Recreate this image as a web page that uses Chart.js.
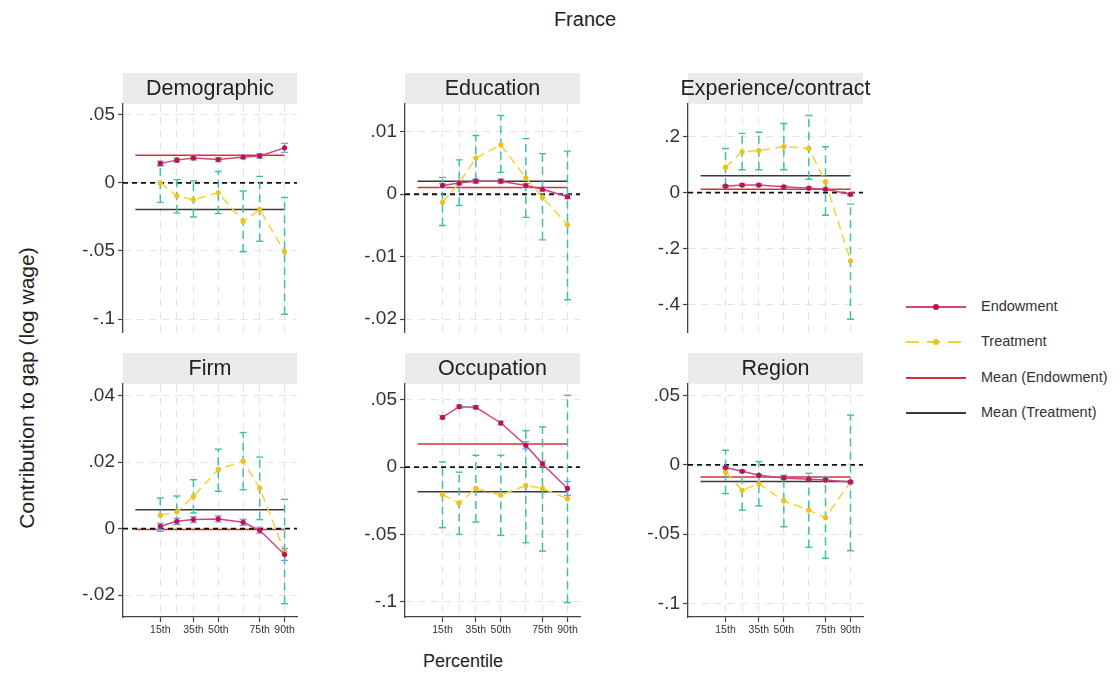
<!DOCTYPE html>
<html>
<head>
<meta charset="utf-8">
<title>France</title>
<script src="https://cdn.jsdelivr.net/npm/chart.js@4.4.1/dist/chart.umd.min.js"></script>
<style>
  body { margin: 0; width: 1120px; height: 675px; background: #fff; position: relative; overflow: hidden;
         font-family: "Liberation Sans", Arial, sans-serif; color: #222; }
  canvas.panel { position: absolute; }
  .txt { position: absolute; white-space: nowrap; }
  #mainTitle { left: 585px; top: 19px; font-size: 20px; transform: translate(-50%, -50%); }
  #xTitle { left: 463px; top: 661px; font-size: 18px; transform: translate(-50%, -50%); }
  #yTitle { left: 27px; top: 388px; font-size: 21px; transform: translate(-50%, -50%) rotate(-90deg); }
  .leg { position: absolute; left: 906px; height: 20px; width: 210px; }
  .leg .sample { position: absolute; left: 0; top: 9px; width: 60px; height: 1.5px; }
  .leg .dot { position: absolute; left: 27px; top: 7px; width: 6px; height: 6px; border-radius: 50%; }
  .leg .lab { position: absolute; left: 75px; top: 1px; font-size: 14.5px; color: #333; }
</style>
</head>
<body>
<div id="mainTitle" class="txt">France</div>
<div id="yTitle" class="txt">Contribution to gap (log wage)</div>
<div id="xTitle" class="txt">Percentile</div>
<div id="legend"></div>

<script>
// x positions and tick labels
const percentiles = [15, 25, 35, 50, 65, 75, 90];
const labelledPercentiles = [15, 35, 50, 75, 90];
const meanFrom = 0;
const meanTo = 90;

const panelTitles = ['Demographic', 'Education', 'Experience/contract', 'Firm', 'Occupation', 'Region'];
const legendLabels = ['Endowment', 'Treatment', 'Mean (Endowment)', 'Mean (Treatment)'];

// Demographic
const demoEndow   = [0.0143, 0.0167, 0.0183, 0.0171, 0.0190, 0.0198, 0.0257];
const demoEndowLo = [0.0127, 0.0153, 0.0169, 0.0157, 0.0177, 0.0182, 0.0224];
const demoEndowHi = [0.0159, 0.0181, 0.0197, 0.0185, 0.0203, 0.0214, 0.0290];
const demoTreat   = [0.0000, -0.0095, -0.0124, -0.0071, -0.0283, -0.0195, -0.0505];
const demoTreatLo = [-0.0143, -0.0220, -0.0250, -0.0226, -0.0505, -0.0429, -0.0964];
const demoTreatHi = [0.0126, 0.0024, 0.0014, 0.0083, -0.0060, 0.0048, -0.0107];
const demoMeans   = [0.0202, -0.0195];
const demoTicks   = [-0.1, -0.05, 0, 0.05];

// Education
const eduEndow   = [0.0014, 0.0018, 0.0021, 0.0021, 0.0014, 0.0008, -0.0004];
const eduEndowLo = [0.0011, 0.0015, 0.0018, 0.0018, 0.0011, 0.0005, -0.0007];
const eduEndowHi = [0.0017, 0.0021, 0.0024, 0.0024, 0.0017, 0.0011, -0.0001];
const eduTreat   = [-0.0013, 0.0018, 0.0058, 0.0079, 0.0026, -0.0005, -0.0049];
const eduTreatLo = [-0.0050, -0.0018, 0.0022, 0.0035, -0.0037, -0.0073, -0.0169];
const eduTreatHi = [0.0027, 0.0055, 0.0094, 0.0126, 0.0089, 0.0065, 0.0069];
const eduMeans   = [0.0011, 0.0021];
const eduTicks   = [-0.02, -0.01, 0, 0.01];

// Experience/contract
const expEndow   = [0.023, 0.027, 0.027, 0.021, 0.016, 0.012, -0.006];
const expEndowLo = [0.019, 0.023, 0.023, 0.017, 0.012, 0.008, -0.011];
const expEndowHi = [0.027, 0.031, 0.031, 0.025, 0.020, 0.016, -0.001];
const expTreat   = [0.091, 0.146, 0.150, 0.165, 0.158, 0.039, -0.244];
const expTreatLo = [0.024, 0.082, 0.082, 0.082, 0.048, -0.081, -0.453];
const expTreatHi = [0.158, 0.212, 0.216, 0.247, 0.276, 0.164, -0.041];
const expMeans   = [0.012, 0.060];
const expTicks   = [-0.4, -0.2, 0, 0.2];

// Firm
const firmEndow   = [0.0007, 0.0022, 0.0027, 0.0029, 0.0019, -0.0005, -0.0078];
const firmEndowLo = [-0.0002, 0.0013, 0.0018, 0.0020, 0.0010, -0.0014, -0.0096];
const firmEndowHi = [0.0016, 0.0031, 0.0036, 0.0038, 0.0028, 0.0004, -0.0060];
const firmTreat   = [0.0040, 0.0050, 0.0097, 0.0178, 0.0203, 0.0122, -0.0070];
const firmTreatLo = [-0.0008, 0.0012, 0.0047, 0.0112, 0.0117, 0.0027, -0.0226];
const firmTreatHi = [0.0092, 0.0098, 0.0147, 0.0239, 0.0289, 0.0215, 0.0088];
const firmMeans   = [-0.0003, 0.0057];
const firmTicks   = [-0.02, 0, 0.02, 0.04];

// Occupation
const occEndow   = [0.0371, 0.0450, 0.0446, 0.0329, 0.0163, 0.0025, -0.0158];
const occEndowLo = [0.0359, 0.0438, 0.0434, 0.0315, 0.0136, 0.0005, -0.0210];
const occEndowHi = [0.0383, 0.0462, 0.0458, 0.0343, 0.0190, 0.0045, -0.0106];
const occTreat   = [-0.0203, -0.0267, -0.0158, -0.0208, -0.0136, -0.0158, -0.0235];
const occTreatLo = [-0.0450, -0.0500, -0.0408, -0.0507, -0.0562, -0.0624, -0.1007];
const occTreatHi = [0.0040, -0.0037, 0.0089, 0.0089, 0.0272, 0.0300, 0.0535];
const occMeans   = [0.0173, -0.0183];
const occTicks   = [-0.1, -0.05, 0, 0.05];

// Region
const regEndow   = [-0.0019, -0.0046, -0.0075, -0.0094, -0.0103, -0.0108, -0.0123];
const regEndowLo = [-0.0027, -0.0054, -0.0083, -0.0102, -0.0111, -0.0116, -0.0131];
const regEndowHi = [-0.0011, -0.0038, -0.0067, -0.0086, -0.0095, -0.0100, -0.0115];
const regTreat   = [-0.0050, -0.0183, -0.0135, -0.0260, -0.0327, -0.0380, -0.0123];
const regTreatLo = [-0.0207, -0.0327, -0.0296, -0.0447, -0.0596, -0.0675, -0.0620];
const regTreatHi = [0.0106, -0.0040, 0.0024, -0.0075, -0.0060, -0.0087, 0.0360];
const regMeans   = [-0.0087, -0.0120];
const regTicks   = [-0.1, -0.05, 0, 0.05];

// colours
const colEndowLine = '#d2447f';
const colEndowPt = '#c0124e';
const colEndowCI = '#7f9de3';
const colTreatLine = '#f2d338';
const colTreatPt = '#efc21a';
const colTreatCI = '#40c0a0';
const colMeanEndow = '#d3323b';
const colMeanTreat = '#3a3a3a';

const panels = [
  { title: panelTitles[0], endow: demoEndow, endowLo: demoEndowLo, endowHi: demoEndowHi, treat: demoTreat, treatLo: demoTreatLo, treatHi: demoTreatHi, means: demoMeans, ticks: demoTicks, yMin: -0.1099, yMax: 0.0579, col: 0, row: 0 },
  { title: panelTitles[1], endow: eduEndow, endowLo: eduEndowLo, endowHi: eduEndowHi, treat: eduTreat, treatLo: eduTreatLo, treatHi: eduTreatHi, means: eduMeans, ticks: eduTicks, yMin: -0.02215, yMax: 0.01445, col: 1, row: 0 },
  { title: panelTitles[2], endow: expEndow, endowLo: expEndowLo, endowHi: expEndowHi, treat: expTreat, treatLo: expTreatLo, treatHi: expTreatHi, means: expMeans, ticks: expTicks, yMin: -0.5007, yMax: 0.317, col: 2, row: 0 },
  { title: panelTitles[3], endow: firmEndow, endowLo: firmEndowLo, endowHi: firmEndowHi, treat: firmTreat, treatLo: firmTreatLo, treatHi: firmTreatHi, means: firmMeans, ticks: firmTicks, yMin: -0.0266, yMax: 0.0435, col: 0, row: 1 },
  { title: panelTitles[4], endow: occEndow, endowLo: occEndowLo, endowHi: occEndowHi, treat: occTreat, treatLo: occTreatLo, treatHi: occTreatHi, means: occMeans, ticks: occTicks, yMin: -0.1114, yMax: 0.0619, col: 1, row: 1 },
  { title: panelTitles[5], endow: regEndow, endowLo: regEndowLo, endowHi: regEndowHi, treat: regTreat, treatLo: regTreatLo, treatHi: regTreatHi, means: regMeans, ticks: regTicks, yMin: -0.1099, yMax: 0.0585, col: 2, row: 1 }
];

// layout of the grid
const plotLefts = [123, 405, 688];
const plotWidths = [174, 175, 175];
const plotTops = [104, 384];
const plotHeight = 233;
const stripHeight = 31;
const yAxisWidth = 78;
const rightPad = 14;
const xMin = -7.5;
const xMax = 97.5;

// grey header strip above each panel
const stripPlugin = {
  id: 'strip',
  beforeDraw(chart, args, opts) {
    const { ctx, chartArea } = chart;
    ctx.save();
    ctx.fillStyle = '#ebebeb';
    ctx.fillRect(chartArea.left, chartArea.top - stripHeight, chartArea.right - chartArea.left, stripHeight);
    ctx.fillStyle = '#222';
    ctx.font = '21.5px "Liberation Sans", Arial, sans-serif';
    ctx.textAlign = 'center';
    ctx.textBaseline = 'middle';
    ctx.fillText(opts.text, (chartArea.left + chartArea.right) / 2, chartArea.top - stripHeight / 2 + 1);
    ctx.restore();
  }
};

function toPoints(values) {
  return percentiles.map((p, i) => ({ x: p, y: values[i] }));
}

// vertical CI bars, broken up with null gaps
function toBars(lo, hi) {
  const pts = [];
  percentiles.forEach((p, i) => {
    pts.push({ x: p, y: lo[i] }, { x: p, y: hi[i] }, { x: p, y: null });
  });
  return pts;
}

function formatTick(v) {
  if (v === 0) return '0';
  return String(v).replace('0.', '.');
}

function makePanel(p) {
  const canvas = document.createElement('canvas');
  canvas.className = 'panel';
  const bottomH = p.row === 1 ? 28 : 1;
  const w = yAxisWidth + plotWidths[p.col] + rightPad;
  const h = stripHeight + plotHeight + bottomH;
  canvas.width = w;
  canvas.height = h;
  canvas.style.left = (plotLefts[p.col] - yAxisWidth) + 'px';
  canvas.style.top = (plotTops[p.row] - stripHeight) + 'px';
  canvas.style.width = w + 'px';
  canvas.style.height = h + 'px';
  document.body.appendChild(canvas);

  const showX = p.row === 1;

  new Chart(canvas, {
    type: 'line',
    data: {
      datasets: [
        {
          label: 'Endowment',
          data: toPoints(p.endow),
          borderColor: colEndowLine,
          borderWidth: 1.5,
          pointRadius: 2.6,
          pointBackgroundColor: colEndowPt,
          pointBorderColor: colEndowPt,
          pointBorderWidth: 0,
          order: 1
        },
        {
          label: 'Endowment CI',
          data: toBars(p.endowLo, p.endowHi),
          borderColor: colEndowCI,
          borderWidth: 1.3,
          spanGaps: false,
          pointStyle: 'line',
          pointRadius: 3.5,
          pointBorderColor: colEndowCI,
          pointBorderWidth: 1.3,
          order: 2
        },
        {
          label: 'Treatment',
          data: toPoints(p.treat),
          borderColor: colTreatLine,
          borderWidth: 1.5,
          borderDash: [9, 5],
          pointRadius: 2.6,
          pointBackgroundColor: colTreatPt,
          pointBorderColor: colTreatPt,
          pointBorderWidth: 0,
          order: 3
        },
        {
          label: 'Treatment CI',
          data: toBars(p.treatLo, p.treatHi),
          borderColor: colTreatCI,
          borderWidth: 1.5,
          borderDash: [8, 5],
          spanGaps: false,
          pointStyle: 'line',
          pointRadius: 3.5,
          pointBorderColor: colTreatCI,
          pointBorderWidth: 1.4,
          order: 4
        },
        {
          label: 'Zero',
          data: [{ x: xMin, y: 0 }, { x: xMax, y: 0 }],
          borderColor: '#111',
          borderWidth: 1.8,
          borderDash: [5, 4],
          pointRadius: 0,
          order: 5
        },
        {
          label: 'Mean (Endowment)',
          data: [{ x: meanFrom, y: p.means[0] }, { x: meanTo, y: p.means[0] }],
          borderColor: colMeanEndow,
          borderWidth: 1.5,
          pointRadius: 0,
          order: 6
        },
        {
          label: 'Mean (Treatment)',
          data: [{ x: meanFrom, y: p.means[1] }, { x: meanTo, y: p.means[1] }],
          borderColor: colMeanTreat,
          borderWidth: 1.5,
          pointRadius: 0,
          order: 7
        }
      ]
    },
    options: {
      responsive: false,
      animation: false,
      devicePixelRatio: 1,
      events: [],
      layout: { padding: { top: stripHeight, right: rightPad, bottom: 0, left: 0 } },
      elements: { line: { tension: 0 } },
      plugins: {
        legend: { display: false },
        tooltip: { enabled: false },
        strip: { text: p.title }
      },
      scales: {
        x: {
          type: 'linear',
          min: xMin,
          max: xMax,
          afterBuildTicks: scale => { scale.ticks = percentiles.map(v => ({ value: v })); },
          afterFit: scale => {
            scale.height = bottomH;
            scale.paddingLeft = 0;
            scale.paddingRight = 0;
          },
          grid: {
            color: '#e3e3e3',
            lineWidth: 1,
            drawTicks: showX,
            tickLength: 5,
            tickWidth: 1.2,
            tickColor: ctx => labelledPercentiles.includes(ctx.tick.value) ? '#444' : 'rgba(0,0,0,0)'
          },
          border: { display: showX, color: '#444', width: 1.3, dash: [7, 6] },
          ticks: {
            display: showX,
            autoSkip: false,
            maxRotation: 0,
            padding: 2,
            color: '#333',
            font: { family: '"Liberation Sans", Arial, sans-serif', size: 10.5 },
            callback: v => labelledPercentiles.includes(v) ? v + 'th' : ''
          }
        },
        y: {
          type: 'linear',
          min: p.yMin,
          max: p.yMax,
          afterBuildTicks: scale => { scale.ticks = p.ticks.map(v => ({ value: v })); },
          afterFit: scale => {
            scale.width = yAxisWidth;
            scale.paddingTop = 0;
            scale.paddingBottom = 0;
          },
          grid: {
            color: '#e3e3e3',
            lineWidth: 1,
            drawTicks: true,
            tickLength: 5,
            tickWidth: 1.2,
            tickColor: '#444'
          },
          border: { display: true, color: '#444', width: 1.3, dash: [7, 6] },
          ticks: {
            padding: 3,
            color: '#333',
            font: { family: '"Liberation Sans", Arial, sans-serif', size: 19 },
            callback: v => formatTick(v)
          }
        }
      }
    },
    plugins: [stripPlugin]
  });
}

panels.forEach(makePanel);

// legend on the right
const legendTops = [297, 332, 368, 403];
const legendStyles = [
  { line: colEndowLine, dashed: false, dot: colEndowPt },
  { line: colTreatLine, dashed: true, dot: colTreatPt },
  { line: colMeanEndow, dashed: false, dot: null },
  { line: colMeanTreat, dashed: false, dot: null }
];
const legendDiv = document.getElementById('legend');
legendLabels.forEach((label, i) => {
  const st = legendStyles[i];
  const bg = st.dashed
    ? `repeating-linear-gradient(to right, ${st.line} 0 13px, transparent 13px 21px)`
    : st.line;
  const item = document.createElement('div');
  item.className = 'leg';
  item.style.top = legendTops[i] + 'px';
  let html = `<div class="sample" style="background:${bg}"></div>`;
  if (st.dot) html += `<div class="dot" style="background:${st.dot}"></div>`;
  html += `<div class="lab">${label}</div>`;
  item.innerHTML = html;
  legendDiv.appendChild(item);
});
</script>
</body>
</html>
